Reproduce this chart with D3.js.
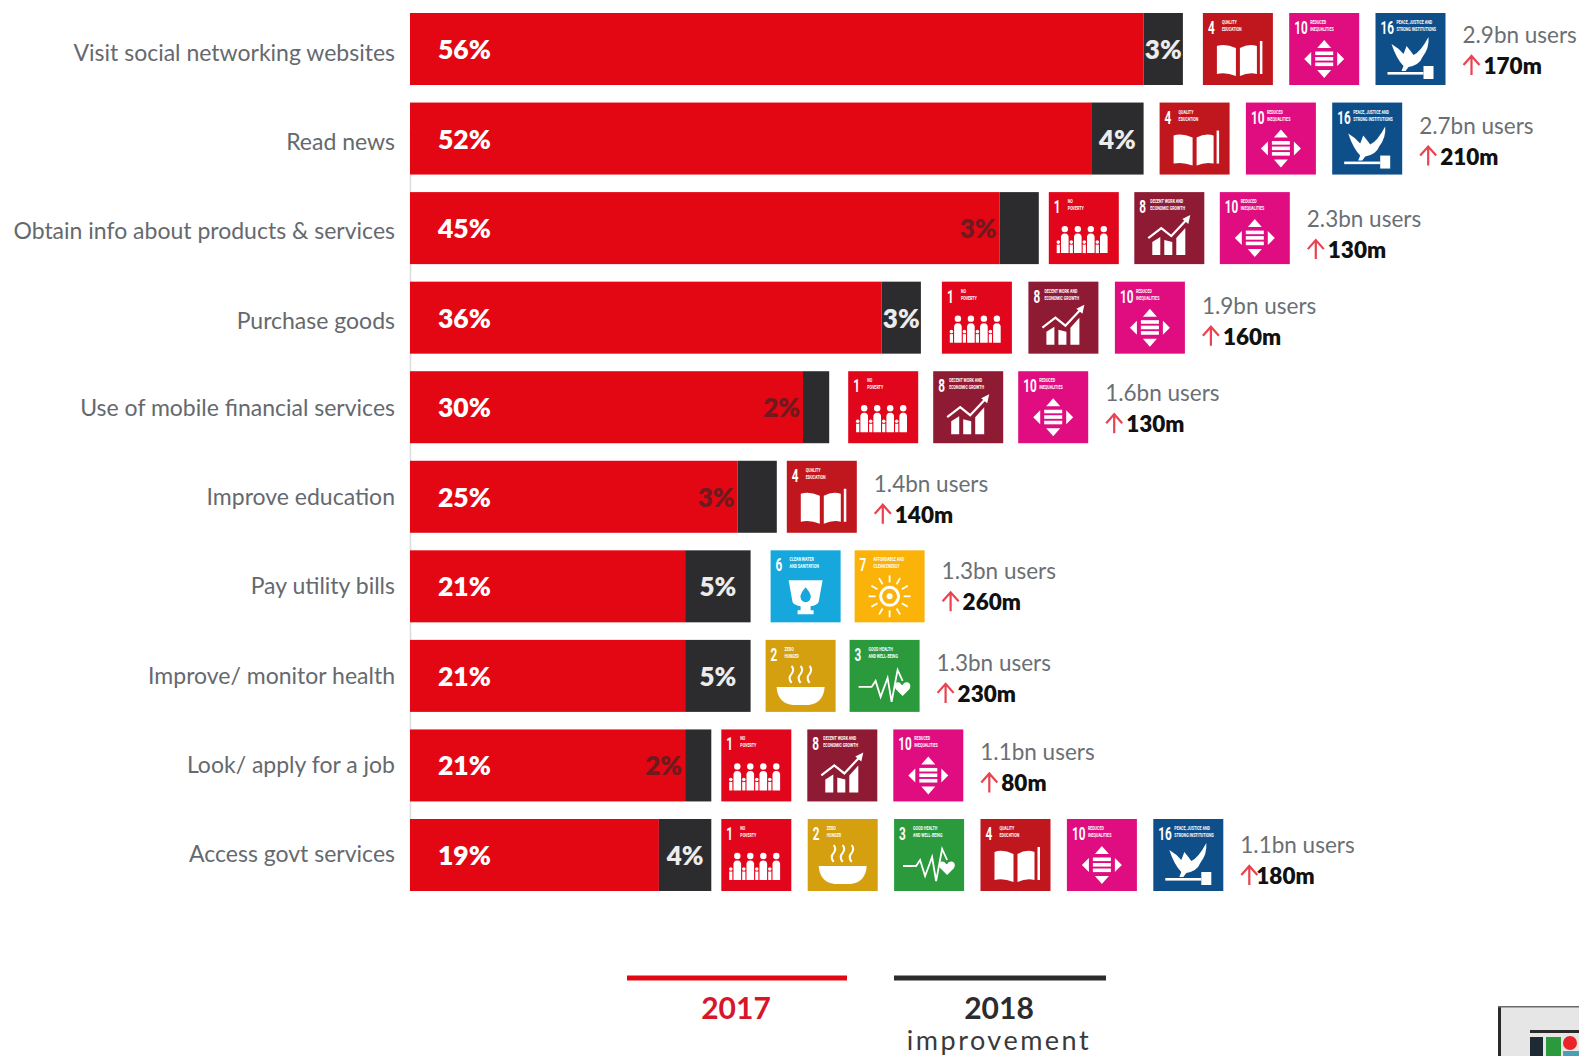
<!DOCTYPE html>
<html>
<head>
<meta charset="utf-8">
<title>Mobile internet use and the SDGs</title>
<script src="https://cdn.jsdelivr.net/npm/d3@7/dist/d3.min.js"></script>
<style>
html,body{margin:0;padding:0;background:#fff;overflow:hidden}
svg{display:block}
text{font-family:Lato,"Open Sans",sans-serif}
.goal-text{font-family:Roboto,sans-serif;font-weight:700;fill:#fff}
</style>
</head>
<body>
<svg id="chart" width="1579" height="1056"></svg>
<script>
// Share of mobile internet users doing each activity
const categories = [
  "Visit social networking websites","Read news","Obtain info about products & services",
  "Purchase goods","Use of mobile financial services","Improve education",
  "Pay utility bills","Improve/ monitor health","Look/ apply for a job","Access govt services"
];
const share2017 = [56,52,45,36,30,25,21,21,21,19];
const improvement2018 = [3,4,3,3,2,3,5,5,2,4];
const userTotals = ["2.9bn","2.7bn","2.3bn","1.9bn","1.6bn","1.4bn","1.3bn","1.3bn","1.1bn","1.1bn"];
const userGains = ["170m","210m","130m","160m","130m","140m","260m","230m","80m","180m"];
const rowGoals = [
  [4,10,16],[4,10,16],[1,8,10],[1,8,10],[1,8,10],[4],[6,7],[2,3],[1,8,10],[1,2,3,4,10,16]
];
const legendLabels = ["2017","2018","improvement"];

// Sustainable Development Goal tiles
const goalNames = {
  1:["NO","POVERTY"],2:["ZERO","HUNGER"],3:["GOOD HEALTH","AND WELL-BEING"],
  4:["QUALITY","EDUCATION"],6:["CLEAN WATER","AND SANITATION"],7:["AFFORDABLE AND","CLEAN ENERGY"],
  8:["DECENT WORK AND","ECONOMIC GROWTH"],10:["REDUCED","INEQUALITIES"],16:["PEACE, JUSTICE AND","STRONG INSTITUTIONS"]
};
const goalColors = {1:"#e2061c",2:"#d4a00f",3:"#2a9a3c",4:"#c0171f",6:"#16a8dc",7:"#fbb30a",8:"#8f1a33",10:"#e00d80",16:"#0e4f8a"};

// Row layout: spacing after each bar, between tiles, and note offsets
const tileGap = [20,16,10,21,19,10,20,15,10,10];
const tileStep = [86.3,86.3,85.5,86.5,85,86,84,84,86,86.4];
const noteDrop = [22,23,27,24,22,23,21,23,23,26];
const gainIndent = [21,21,21,21,21,21,21,21,21,16];
const labelDrift = [1,1,0,1,-2,-2,-3,-3,-3,-4];
const labelOnRed = [false,false,true,false,true,true,false,false,true,false];

const RED = "#e30613", DARK = "#2c2c2e";
const svg = d3.select("#chart");

const x = d3.scaleLinear().domain([0,100]).range([410,1720]);
const y = d3.scaleBand().domain(categories).range([13,891]).paddingInner(0.196).paddingOuter(0);
const tileW = 70, tileH = y.bandwidth();

svg.append("line").attr("x1",410.5).attr("x2",410.5).attr("y1",130).attr("y2",891)
  .attr("stroke","#dcdcdc").attr("stroke-width",1.5);

// Activity labels
const yAxis = svg.append("g").attr("transform",`translate(${x(0)-1},0)`)
  .call(d3.axisLeft(y).tickSize(0).tickPadding(14));
yAxis.select(".domain").remove();
yAxis.selectAll("text").attr("font-size",23).attr("fill","#65696e").attr("dy","0.42em")
  .attr("y",(c,i)=>labelDrift[i]+1)
  .style("font-family","Lato,sans-serif");

const rows = svg.append("g").selectAll("g").data(categories).join("g")
  .attr("transform",c=>`translate(0,${y(c)})`);

rows.append("rect").attr("x",x(0)).attr("width",(c,i)=>x(share2017[i])-x(0)).attr("height",tileH).attr("fill",RED);
rows.append("rect").attr("x",(c,i)=>x(share2017[i]))
  .attr("width",(c,i)=>x(share2017[i]+improvement2018[i])-x(share2017[i]))
  .attr("height",tileH).attr("fill",DARK);

rows.append("text").attr("x",x(0)+28).attr("y",tileH/2+10).attr("font-size",26.5).attr("font-weight",800)
  .attr("fill","#fff").text((c,i)=>share2017[i]+"%");

rows.append("text")
  .attr("x",(c,i)=>labelOnRed[i] ? x(share2017[i])-3 : (x(share2017[i])+x(share2017[i]+improvement2018[i]))/2)
  .attr("text-anchor",(c,i)=>labelOnRed[i] ? "end" : "middle")
  .attr("y",tileH/2+10).attr("font-size",26).attr("font-weight",800)
  .attr("fill",(c,i)=>labelOnRed[i] ? "#6e1a1e" : "#ececec")
  .text((c,i)=>improvement2018[i]+"%");

// White pictograms, drawn in the tile's 70x72 box
const glyphs = {
  1(g){
    [16,29,42,55].forEach(cx=>{
      g.append("circle").attr("cx",cx).attr("cy",37).attr("r",3.2);
      g.append("path").attr("d",`M${cx-3.8} 61V47Q${cx-4.5} 41.5 ${cx} 41.5Q${cx+4.5} 41.5 ${cx+3.8} 47V61Z`);
    });
    [9.5,22.5,35.5,48.5].forEach(cx=>{
      g.append("circle").attr("cx",cx).attr("cy",50).attr("r",1.8);
      g.append("rect").attr("x",cx-1.6).attr("y",52.5).attr("width",3.2).attr("height",8.5);
    });
  },
  2(g){
    g.append("path").attr("d","M11 47H59Q58 63 43 65H27Q12 63 11 47Z");
    [26,35,44].forEach(s=>g.append("path").attr("fill","none").attr("stroke","#fff").attr("stroke-width",2)
      .attr("d",`M${s} 43Q${s-4} 38 ${s} 34Q${s+3} 30 ${s} 26`));
  },
  3(g){
    g.append("path").attr("fill","none").attr("stroke","#fff").attr("stroke-width",1.8)
      .attr("d","M9 47H22L26 41L31 57L38 38L42 62L48 30L53 41");
    g.append("path").attr("d","M52 45C49 40 43 43 46 49L53 56L60 49C63 43 56 40 53 45Z");
  },
  4(g){
    g.append("path").attr("d","M14 33Q22 30 33 35V63Q23 59 14 61Z");
    g.append("path").attr("d","M37 35Q46 30 54 33V61Q46 59 37 63Z");
    g.append("rect").attr("x",57).attr("y",28).attr("width",2.5).attr("height",33);
  },
  6(g){
    g.append("path").attr("d","M18 30H52L48 52Q46 55 40 56V60H43V64H27V60H30V56Q24 55 22 52Z");
    g.append("path").attr("fill",goalColors[6]).attr("d","M35 37Q41 44 40 47A5 5 0 0 1 30 47Q29 44 35 37Z");
  },
  7(g){
    g.append("circle").attr("cx",35).attr("cy",46).attr("r",9).attr("fill","none").attr("stroke","#fff").attr("stroke-width",3);
    g.append("circle").attr("cx",35).attr("cy",46).attr("r",3);
    d3.range(12).forEach(k=>{
      const a = k*Math.PI/6;
      g.append("line").attr("x1",35+Math.cos(a)*14).attr("y1",46+Math.sin(a)*14)
        .attr("x2",35+Math.cos(a)*21).attr("y2",46+Math.sin(a)*21)
        .attr("stroke","#fff").attr("stroke-width",1.8);
    });
  },
  8(g){
    g.append("path").attr("d","M18 63V50L26 45V63ZM30 63V48L38 50V63ZM42 63V46L51 36V63Z");
    g.append("path").attr("fill","none").attr("stroke","#fff").attr("stroke-width",2.2)
      .attr("d","M14 46L27 36L37 44L52 28");
    g.append("path").attr("d","M48 27L56 23L54 32Z");
  },
  10(g){
    g.append("path").attr("d","M35 27L42 35H28ZM35 65L42 57H28ZM15 46L22 39V53ZM55 46L48 39V53Z");
    [38.5,44,49.5].forEach(t=>g.append("rect").attr("x",26).attr("y",t).attr("width",18).attr("height",3.6));
  },
  16(g){
    g.append("path").attr("d","M16 31Q23 35 28 41Q30 36 31 33Q36 39 38 42Q45 39 53 24Q54 35 47 44Q44 52 33 54L30 58H26L28 53Q21 46 16 31Z");
    g.append("rect").attr("x",12).attr("y",59).attr("width",36).attr("height",2.6);
    g.append("rect").attr("x",48).attr("y",53).attr("width",10).attr("height",13);
  }
};

rows.each(function(c,i){
  const row = d3.select(this);
  const start = x(share2017[i]+improvement2018[i])+tileGap[i];
  rowGoals[i].forEach((goal,k)=>{
    const t = row.append("g").attr("transform",`translate(${start+k*tileStep[i]},0)`);
    t.append("rect").attr("width",tileW).attr("height",tileH).attr("fill",goalColors[goal]);
    // Narrowed goal number and two-line caption
    t.append("text").attr("class","goal-text").attr("transform","translate(5,21) scale(0.62,1)")
      .attr("font-size",19).text(goal);
    goalNames[goal].forEach((line,n)=>t.append("text").attr("class","goal-text")
      .attr("transform",`translate(${goal>=10?21:(goal===8?16:19)},${11+n*7}) scale(0.7,1)`)
      .attr("font-size",5.2).text(line));
    glyphs[goal](t.append("g").attr("fill","#fff"));
  });

  // User totals and year-on-year gain
  const noteX = start+(rowGoals[i].length-1)*tileStep[i]+tileW+17;
  const top = noteDrop[i];
  row.append("text").attr("x",noteX).attr("y",top+8).attr("font-size",22.5).attr("fill","#6b6f74").text(userTotals[i]+" users");
  const mid = top+30;
  row.append("path").attr("fill","none").attr("stroke","#e8434f").attr("stroke-width",2.2)
    .attr("d",`M${noteX+9} ${mid+10}V${mid-8}M${noteX+1} ${mid}L${noteX+9} ${mid-9}L${noteX+17} ${mid}`);
  row.append("text").attr("x",noteX+gainIndent[i]).attr("y",mid+9).attr("font-size",22.5).attr("font-weight",800)
    .attr("fill","#111").text(userGains[i]);
});

// Legend
svg.append("rect").attr("x",627).attr("y",975.5).attr("width",220).attr("height",5).attr("fill",RED);
svg.append("rect").attr("x",894).attr("y",975.5).attr("width",212).attr("height",5).attr("fill",DARK);
svg.append("text").attr("x",736).attr("y",1018.5).attr("text-anchor","middle").attr("font-size",30).attr("font-weight",700)
  .attr("fill","#d8162a").text(legendLabels[0]);
svg.append("text").attr("x",999).attr("y",1018.5).attr("text-anchor","middle").attr("font-size",30).attr("font-weight",700)
  .attr("fill","#2c2c2e").text(legendLabels[1]);
svg.append("text").attr("x",999).attr("y",1050).attr("text-anchor","middle").attr("font-size",27)
  .attr("letter-spacing",2.5).attr("fill","#3a3a3c").text(legendLabels[2]);

// Small page thumbnail in the bottom corner
const thumb = svg.append("g");
thumb.append("rect").attr("x",1499).attr("y",1006).attr("width",80).attr("height",50).attr("fill","#e6e6e6");
thumb.append("rect").attr("x",1498).attr("y",1006).attr("width",3).attr("height",50).attr("fill","#2a2a2a");
thumb.append("rect").attr("x",1498).attr("y",1006).attr("width",81).attr("height",1.5).attr("fill","#6a6a6a");
thumb.append("rect").attr("x",1530).attr("y",1030).attr("width",49).attr("height",3).attr("fill","#2a2a2a");
thumb.append("rect").attr("x",1530).attr("y",1037).attr("width",13).attr("height",19).attr("fill","#1d2a33");
thumb.append("rect").attr("x",1546).attr("y",1037).attr("width",15).attr("height",19).attr("fill","#2a9a3c");
thumb.append("circle").attr("cx",1570).attr("cy",1043).attr("r",7).attr("fill","#e8262a");
thumb.append("rect").attr("x",1563).attr("y",1051).attr("width",16).attr("height",5).attr("fill","#4a9fb5");
</script>
</body>
</html>
